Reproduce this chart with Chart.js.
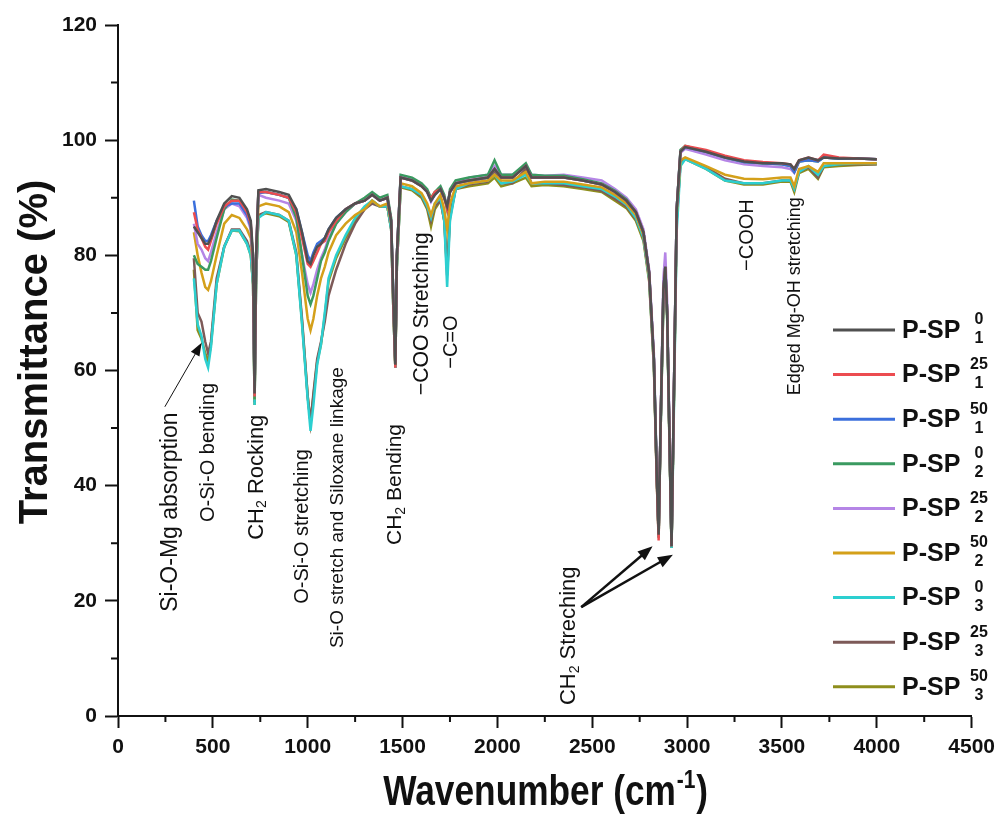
<!DOCTYPE html>
<html><head><meta charset="utf-8">
<script src="https://cdn.jsdelivr.net/npm/chart.js@4.4.1/dist/chart.umd.min.js"></script>
<style>html,body{margin:0;padding:0;background:#fff;}#wrap{width:1002px;height:818px;}</style>
</head><body><div id="wrap"><canvas id="c" width="1002" height="818"></canvas></div>
<script>
const wavenumbers = [400,420,440,460,475,490,520,560,600,640,680,700,712,720,728,740,780,850,900,940,970,1000,1015,1030,1050,1070,1090,1110,1150,1200,1250,1300,1340,1380,1420,1440,1452,1462,1470,1490,1550,1600,1630,1650,1670,1700,1720,1735,1750,1780,1850,1950,1985,2020,2080,2150,2180,2250,2350,2450,2550,2620,2680,2730,2770,2800,2825,2840,2850,2860,2875,2885,2895,2905,2918,2930,2945,2965,2990,3100,3200,3300,3400,3500,3545,3565,3590,3640,3690,3720,3800,3900,4000];

const pSP_0_1 = [85,84,83,82,82,83,86,89,90.3,90, 88,86,80,56,80,91.3,91.5,91,90.5,88, 84,79,78.5,80,81.5,82,83,84.5,86.5,88, 89,89.5,90.5,89.5,90,86,72,61,80,93.5, 93,92,91,89.5,90.5,91.5,90,88.5,91,92.5, 93,93.5,95,93.5,93.5,95.5,93.5,93.5,93.5,93, 92.3,91,89.5,87.5,84,77,62,42,31.5,50, 74,78,70,52,29.5,55,88,98,98.8,98, 97,96.3,96,96,95.8,95,96.5,97,96.5,97, 96.8,96.8,96.7];
const pSP_25_1 = [87.5,84.5,83,81.5,81,82.5,85.5,88.5,89.5,89.5, 87.5,85.5,79,55.5,80,91,91,90.5,90,87.5, 83,78.5,78,79,80.5,82,82.5,84,86,88, 89,89.5,90.5,89.5,90,86,71,60.5,80,93.5, 93,92,91,89.8,91,91.5,90,88,91,92.5, 93,93.5,95,93.5,93.5,95.5,93.5,93.5,93.5,93, 92.3,91,89.5,87.5,84,77,62,41,30.5,50, 74,78,70,52,29.5,55,88,98,99,98.3, 97.3,96.5,96.2,96,95.8,95,96.5,97,96.5,97.5, 97,96.8,96.7];
const pSP_50_1 = [89.5,85,83.5,82.5,82.5,83.5,86,88.5,89,89, 87,85,79,56,80,90.8,91,90.5,90,88, 84,80,79,80.5,82,82.5,83,84.5,86.5,88, 89,89.5,90.5,89.5,90,86,72,61.5,80,93.5, 93,92,91,89.5,90.5,91.5,90,88.5,91,92.5, 93,93.5,95,93.5,93.5,95.5,93.5,93.5,93.5,93, 92.3,91,89.5,87.5,84,77,62,42,31.5,50, 74,78,70,52,29.5,55,88,98,98.8,98, 97,96.2,96,95.8,95.5,94.5,96.3,96.5,96.3,97, 96.8,96.8,96.7];
const pSP_0_2 = [80,78.5,78,77.5,77.5,79,83,88,89.7,89.5, 87.5,85,79,55,79,91,91,90.5,90,86.5, 80,73,71.5,73,76,79,80.5,82.5,85.5,87.5, 89,90,91,90,90.5,86.5,72,61,80,94, 93.5,92.5,91.5,90,91,92,90.5,88,91.5,93, 93.5,94,96.5,94,94,96,94,93.8,93.8,93.2, 92.5,91.2,89.7,87.5,84,77,62,42,31.5,50, 74,78,70,52,29.5,55,88,98.3,99,98, 97,96.2,96,95.8,95.5,94.5,96.3,96.5,96.3,97, 96.8,96.8,96.7];
const pSP_25_2 = [85.5,82,81,79.5,79,80.5,84,88,89,88.5, 86.5,84.5,78,55.5,79,90.5,90,89.5,89,86, 80,75,73.5,75,77.5,79.5,81,83,85.5,87.5, 89,89.5,90.5,89.5,90,86,72,61.5,80,93.8, 93.3,92.3,91,89.3,90.5,91.5,90,88.5,91,92.5, 93.5,94,95.5,94,94,95.5,94,93.8,94,93.5, 93,91.5,90,88,84.5,77.5,63,43,32,51, 76,80.5,72,54,30,56,88,97.8,98.5,97.5, 96.5,95.8,95.5,95.3,95,94.3,96.3,96.8,96.5,97, 96.8,96.8,96.7];
const pSP_50_2 = [84,80,77,74.5,74,75.5,80,85.5,87,86.5, 84.5,83,77,55,78,88.5,89,88.5,87.5,84, 77,69,67,69,73,76,78,80.5,83.5,85.5, 87,88,89.5,88.5,89,85.5,71,61,79,92.5, 92,90.8,89,87,89,90.5,88,84.5,89,92, 92.5,93,94,93,93,94.5,92.5,92.8,92.8,92.3, 91.8,90.5,89,87,83.5,76.5,61.5,42,31.5,50, 73,77.5,69.5,51.5,29.5,54,87,96.5,97,95.5, 94,93.3,93.2,93.5,93.5,92,95,95.5,94.5,96, 96,96,96];
const pSP_0_3 = [76,68,66,62,60.5,64,75,81.5,84.3,84.3, 82,80,75,54,76,86.5,87.5,87,86,80, 68,55,49.5,54,61,64.5,70,76,80,83.5, 86.5,88.5,89.5,88.5,88.5,84.5,70,60.5,78,92, 91.5,90.5,88.5,86.5,89,90,86,74.5,86,91.5, 92.5,93,94,92.5,92.8,94,92.5,92.5,92.5,92, 91.5,90.2,88.8,86.5,83,76,61,41.5,31,49, 72,77,69,51,29.2,52,84,95.5,96.7,95, 93,92.5,92.5,93,93,91.5,94.5,95.5,94,95.5, 95.8,96,96];
const pSP_25_3 = [79.5,70,68.5,65,63,65,76,81.5,84.5,84.5, 82.5,80.5,75,54.5,76,87,87.5,87,86,80.5, 69,55.5,51,56,62,65,68.5,73,77.5,82, 85.5,88,89,88.5,88.5,84.5,70,60.5,78,92, 91.5,90.3,88.3,86,88.5,89.5,86,76.5,86.5,91.5, 92.3,92.8,94.5,92.5,92.5,95,92.5,92.5,92.2,91.8, 91.2,89.8,88.5,86.3,83,76,61,41.5,31,49, 72.5,78.3,70,51.5,29.3,54,86,96,96.8,95.3, 93.3,92.5,92.5,93,93,91.5,94.5,95.3,93.5,95.5, 95.8,95.8,95.8];
const pSP_50_3 = [77.5,67,65.5,63,61.5,64.5,75,81.5,84.3,84.2, 82,80,75,54,76,86.8,87.3,86.8,85.8,80, 68.5,55.5,51,55.5,61.5,64.5,69.5,75.5,79.5,83, 86,88,89.5,88.5,88.5,84.5,70,60.5,78,91.8, 91.3,90,88,85,88,89.5,86,77.5,87,91.5, 92,92.5,93.5,92,92.5,93.5,92,92.2,92,91.5, 91,89.5,88.2,86,82.5,75.5,60.5,41,31,49, 71.5,77,69,51,29.2,53.5,86,96,96.7,95, 93,92.3,92.3,92.8,92.8,91,94.3,95,93.3,95.3, 95.5,95.7,95.8];

const seriesValues = [pSP_0_1, pSP_25_1, pSP_50_1, pSP_0_2, pSP_25_2, pSP_50_2, pSP_0_3, pSP_25_3, pSP_50_3];
const seriesBase = 'P-SP';
const seriesSup = ['0','25','50','0','25','50','0','25','50'];
const seriesSub = ['1','1','1','2','2','2','3','3','3'];
const seriesColors = ['#505050','#ec4c50','#3b6fdc','#3a9a60','#b585e6','#d4a01a','#2ccfd0','#7d5a58','#8e8e1c'];

const xTicks = [0,500,1000,1500,2000,2500,3000,3500,4000,4500];
const yTicks = [0,20,40,60,80,100,120];

const annotations = [
  {segs:[{t:'Si-O-Mg absorption'}], x:278, y:18.1, size:23},
  {segs:[{t:'O-Si-O bending'}], x:478, y:33.7, size:20},
  {segs:[{t:'CH'},{t:'2',sub:true},{t:' Rocking'}], x:730, y:30.6, size:22},
  {segs:[{t:'O-Si-O stretching'}], x:971, y:19.5, size:20},
  {segs:[{t:'Si-O stretch and Siloxane linkage'}], x:1160, y:11.8, size:19},
  {segs:[{t:'CH'},{t:'2',sub:true},{t:' Bending'}], x:1460, y:29.7, size:21},
  {segs:[{t:'\u2212COO Stretching'}], x:1602, y:55.7, size:21.3},
  {segs:[{t:'\u2212C=O'}], x:1759, y:60.3, size:20},
  {segs:[{t:'CH'},{t:'2',sub:true},{t:' Streching'}], x:2379, y:1.9, size:22},
  {segs:[{t:'\u2212COOH'}], x:3319, y:77.3, size:20},
  {segs:[{t:'Edged Mg-OH stretching'}], x:3571, y:55.7, size:18}
];
const arrows = [
  {from:[247,53.7], to:[441,64.8], width:1, head:13},
  {from:[2442,18.9], to:[2818,29.5], width:2.5, head:15},
  {from:[2442,18.9], to:[2925,28.0], width:2.5, head:15}
];

function hasFont(name){
  const c=document.createElement('canvas').getContext('2d');
  c.font='bold 40px monospace'; const a=c.measureText('Wavenumber 1000').width;
  c.font='bold 40px "'+name+'", monospace'; const b=c.measureText('Wavenumber 1000').width;
  return Math.abs(a-b)>0.5;
}
const narrow = hasFont('Liberation Sans Narrow');
const tickFamily = narrow ? '"Liberation Sans Narrow"' : '"Liberation Sans"';
const SANS = '"Liberation Sans", Arial, sans-serif';

function drawSegs(ctx, segs, size, weight){
  let x=0;
  for(const s of segs){
    const fs = s.sub ? Math.round(size*0.65) : size;
    ctx.font = weight+' '+fs+'px '+SANS;
    const dy = s.sub ? size*0.28 : 0;
    ctx.fillText(s.t, x, dy);
    x += ctx.measureText(s.t).width;
  }
}

const decor = {
  id:'decor',
  afterDraw(chart){
    const ctx=chart.ctx, xs=chart.scales.x, ys=chart.scales.y;
    ctx.save();
    ctx.fillStyle='#111'; ctx.strokeStyle='#111';
    ctx.lineWidth=2;
    ctx.beginPath();
    for(let v=250; v<4500; v+=500){ const p=xs.getPixelForValue(v); ctx.moveTo(p, ys.bottom); ctx.lineTo(p, ys.bottom+6); }
    for(let v=10; v<120; v+=20){ const p=ys.getPixelForValue(v); ctx.moveTo(xs.left, p); ctx.lineTo(xs.left-7, p); }
    ctx.stroke();
    ctx.textBaseline='middle'; ctx.textAlign='left';
    for(const a of annotations){
      ctx.save();
      ctx.translate(xs.getPixelForValue(a.x), ys.getPixelForValue(a.y));
      ctx.rotate(-Math.PI/2);
      drawSegs(ctx, a.segs, a.size, 'normal');
      ctx.restore();
    }
    for(const ar of arrows){
      const x1=xs.getPixelForValue(ar.from[0]), y1=ys.getPixelForValue(ar.from[1]);
      const x2=xs.getPixelForValue(ar.to[0]), y2=ys.getPixelForValue(ar.to[1]);
      const ang=Math.atan2(y2-y1,x2-x1), h=ar.head;
      ctx.lineWidth=ar.width;
      ctx.beginPath(); ctx.moveTo(x1,y1); ctx.lineTo(x2-Math.cos(ang)*h*0.8, y2-Math.sin(ang)*h*0.8); ctx.stroke();
      ctx.beginPath();
      ctx.moveTo(x2,y2);
      ctx.lineTo(x2-h*Math.cos(ang)+h*0.38*Math.sin(ang), y2-h*Math.sin(ang)-h*0.38*Math.cos(ang));
      ctx.lineTo(x2-h*Math.cos(ang)-h*0.38*Math.sin(ang), y2-h*Math.sin(ang)+h*0.38*Math.cos(ang));
      ctx.closePath(); ctx.fill();
    }
    chart.data.datasets.forEach((ds,i)=>{
      const ry = 330 + i*44.6;
      ctx.strokeStyle=ds.borderColor; ctx.lineWidth=3;
      ctx.beginPath(); ctx.moveTo(833, ry); ctx.lineTo(895, ry); ctx.stroke();
      ctx.fillStyle='#111'; ctx.textAlign='left'; ctx.textBaseline='middle';
      ctx.font='bold 25px '+SANS;
      ctx.fillText(seriesBase, 902, ry+1);
      ctx.textAlign='center'; ctx.font='bold 16px '+SANS;
      ctx.fillText(seriesSup[i], 979, ry-10);
      ctx.fillText(seriesSub[i], 979, ry+9);
    });
    ctx.fillStyle='#111';
    ctx.save();
    ctx.translate(47, 352); ctx.rotate(-Math.PI/2);
    ctx.textAlign='center'; ctx.textBaseline='alphabetic';
    ctx.font='bold 40px '+SANS;
    ctx.fillText('Transmittance (%)', 0, 0);
    ctx.restore();
    ctx.save();
    let fam = narrow ? '"Liberation Sans Narrow"' : SANS;
    const main1='Wavenumber (cm', sup='-1', main2=')';
    ctx.textBaseline='alphabetic'; ctx.textAlign='left';
    const big='bold 42px '+fam, small='bold 25px '+fam;
    ctx.font=big; const w1=ctx.measureText(main1).width, w3=ctx.measureText(main2).width;
    ctx.font=small; const w2=ctx.measureText(sup).width;
    const sx = narrow ? 1 : 0.84;
    const total=(w1+w2+w3)*sx;
    const cx=(xs.left+xs.right)/2;
    ctx.translate(cx-total/2, 805); ctx.scale(sx,1);
    ctx.font=big; ctx.fillText(main1,0,0);
    ctx.font=small; ctx.fillText(sup,w1+1,-17);
    ctx.font=big; ctx.fillText(main2,w1+w2+2,0);
    ctx.restore();
    ctx.restore();
  }
};

const datasets = seriesValues.map((vals,i)=>({
  label: seriesBase+' '+seriesSup[i]+'/'+seriesSub[i],
  data: wavenumbers.map((w,j)=>({x:w, y:vals[j]})),
  borderColor: seriesColors[i],
  backgroundColor: seriesColors[i],
  borderWidth: 2.5,
  pointRadius: 0,
  tension: 0,
  fill: false
}));

const tickFont = {family: tickFamily, size: narrow ? 23 : 21, weight: 'bold'};
new Chart(document.getElementById('c'), {
  type:'line',
  data:{datasets},
  plugins:[decor],
  options:{
    responsive:false, animation:false, devicePixelRatio:1,
    layout:{autoPadding:false, padding:{left:0, top:25, right:27, bottom:0}},
    plugins:{legend:{display:false}, tooltip:{enabled:false}},
    scales:{
      x:{type:'linear', min:0, max:4500,
        afterBuildTicks(s){ s.ticks = xTicks.map(v=>({value:v})); },
        afterFit(s){ s.height = 102; },
        ticks:{font:tickFont, color:'#111', padding:7, maxRotation:0, autoSkip:false, callback:(v)=>String(v)},
        grid:{drawOnChartArea:false, drawTicks:true, tickLength:12, tickWidth:2, tickColor:'#111'},
        border:{display:true, color:'#111', width:2}
      },
      y:{type:'linear', min:0, max:120,
        afterBuildTicks(s){ s.ticks = yTicks.map(v=>({value:v})); },
        afterFit(s){ s.width = 118; },
        ticks:{font:tickFont, color:'#111', padding:8, autoSkip:false, callback:(v)=>String(v)},
        grid:{drawOnChartArea:false, drawTicks:true, tickLength:13, tickWidth:2, tickColor:'#111'},
        border:{display:true, color:'#111', width:2}
      }
    }
  }
});
</script></body></html>
